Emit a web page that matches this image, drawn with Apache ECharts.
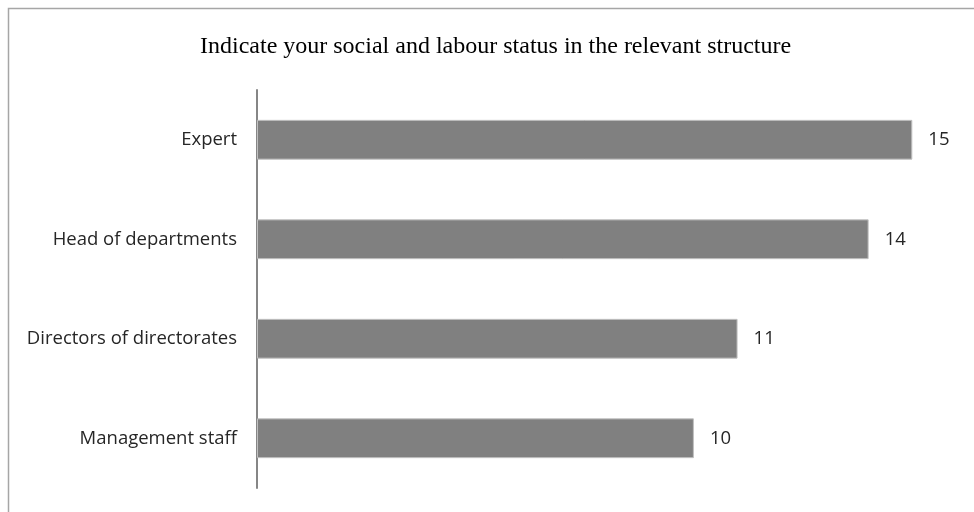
<!DOCTYPE html>
<html>
<head>
<meta charset="utf-8">
<script src="https://cdn.jsdelivr.net/npm/echarts@6/dist/echarts.min.js"></script>
<style>
  html, body { margin: 0; padding: 0; background: #fff; }
  #chart { width: 974px; height: 512px; }
</style>
</head>
<body>
<div id="chart"></div>
<script>
// Survey answers: number of respondents per status
const titleText = 'Indicate your social and labour status in the relevant structure';
const categories = ['Management staff', 'Directors of directorates', 'Head of departments', 'Expert'];
const counts = [10, 11, 14, 15];

const chart = echarts.init(document.getElementById('chart'), null, { renderer: 'canvas' });

chart.setOption({
  backgroundColor: '#ffffff',
  animation: false,
  title: {
    text: titleText,
    left: 200,
    top: 35,
    padding: 0,
    textStyle: {
      fontFamily: 'Liberation Serif',
      fontWeight: 'normal',
      fontSize: 24,
      color: '#000000'
    }
  },
  graphic: [{
    type: 'rect',
    shape: { x: 8.5, y: 8.5, width: 990, height: 530 },
    style: { fill: 'none', stroke: '#a6a6a6', lineWidth: 1.5 },
    silent: true
  }],
  grid: { left: 257, top: 90, right: 18, bottom: 24 },
  xAxis: {
    type: 'value',
    min: 0,
    max: 16,
    show: false
  },
  yAxis: {
    type: 'category',
    data: categories,
    axisLine: { show: true, lineStyle: { color: '#868686', width: 2 } },
    axisTick: { show: false },
    axisLabel: {
      margin: 20,
      fontFamily: 'Open Sans',
      fontSize: 18.5,
      color: '#262626'
    }
  },
  series: [{
    type: 'bar',
    data: counts,
    barWidth: '40%',
    itemStyle: { color: '#808080', borderColor: '#c0c0c0', borderWidth: 1 },
    label: {
      show: true,
      position: 'right',
      distance: 16,
      fontFamily: 'Open Sans',
      fontSize: 18.5,
      color: '#262626'
    }
  }]
});
</script>
</body>
</html>
